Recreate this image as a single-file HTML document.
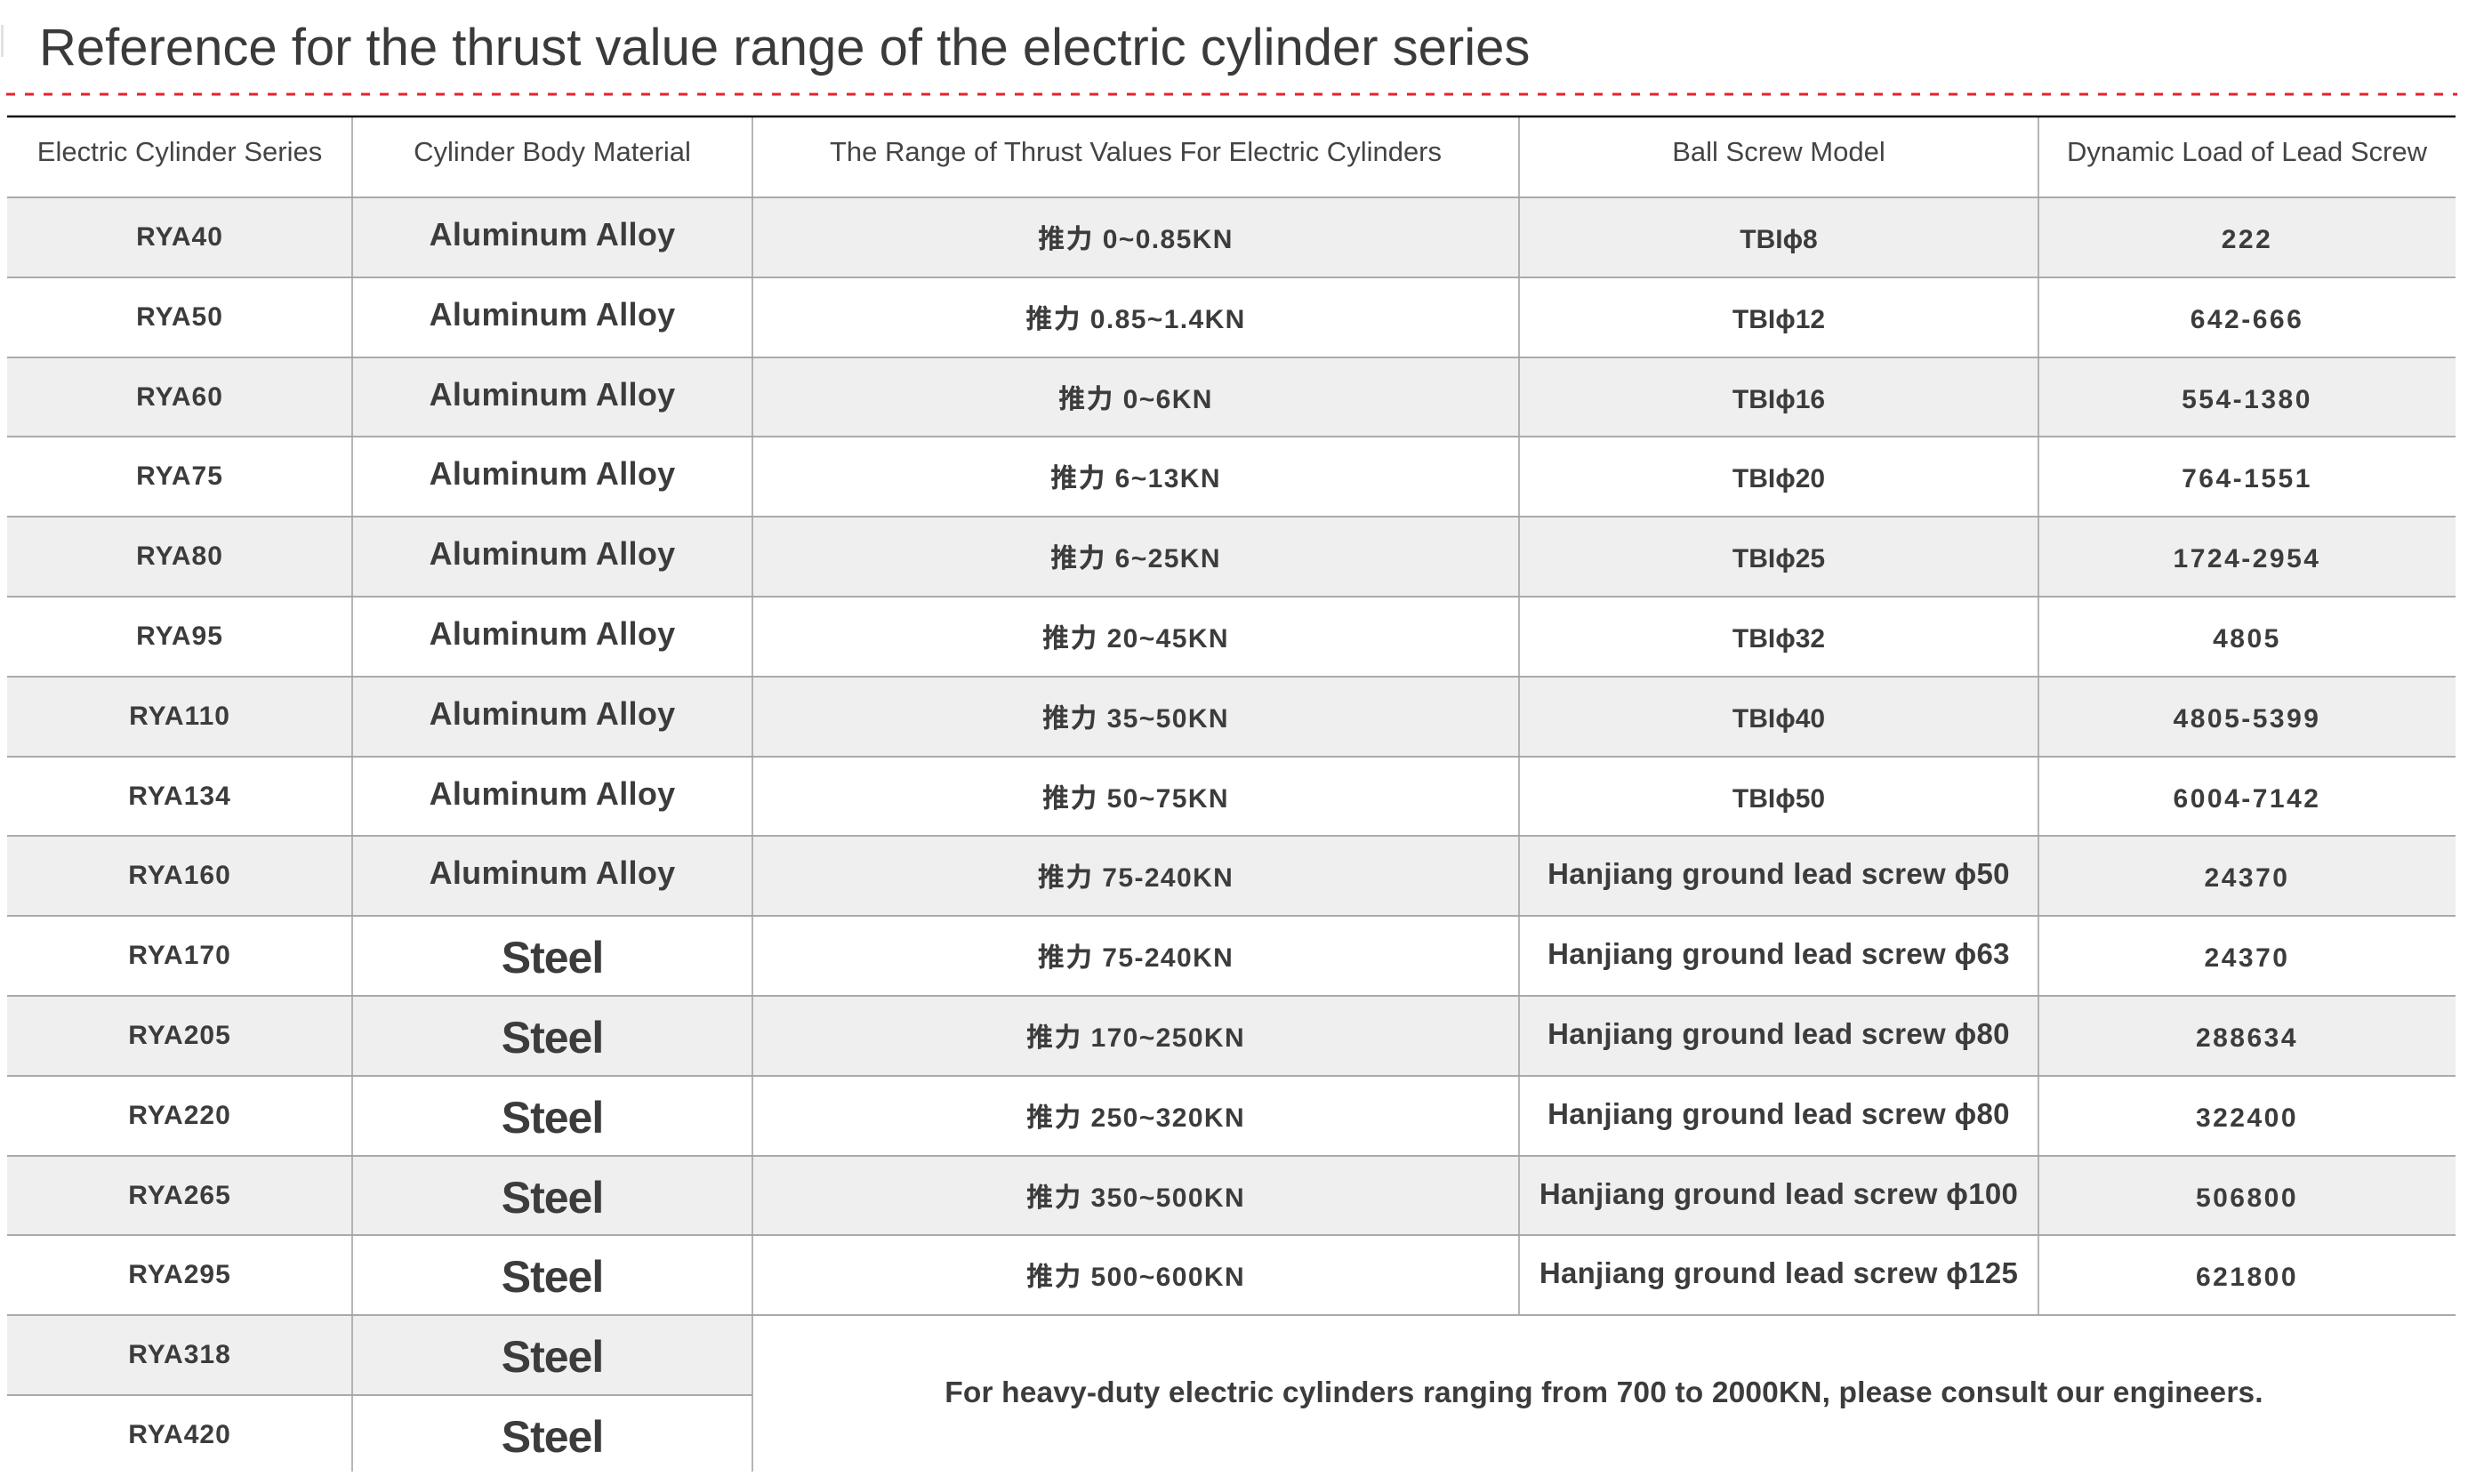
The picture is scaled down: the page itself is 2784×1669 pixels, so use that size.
<!DOCTYPE html>
<html>
<head>
<meta charset="utf-8">
<style>
html,body{margin:0;padding:0;background:#fff;}
#pg{position:relative;width:2784px;height:1669px;overflow:hidden;background:#fff;}
.t{position:absolute;left:44px;top:25px;font-family:"Liberation Sans",sans-serif;font-size:58px;line-height:58px;color:#3a3a3a;white-space:nowrap;}
.mark{position:absolute;left:1px;top:28px;width:3px;height:36px;background:#e2e2e2;}
.r{position:absolute;left:0;width:2784px;height:90px;}
.c{position:absolute;height:100px;line-height:100px;text-align:center;white-space:nowrap;font-family:"Liberation Sans","DejaVu Sans","Noto Sans CJK SC",sans-serif;color:#3c3c3c;font-weight:bold;}
.h{font-weight:normal;font-size:31px;color:#444;}
.c1{left:8px;width:388px;font-size:30px;top:-5px;letter-spacing:1px;}
.c2{left:396px;width:450px;font-size:36px;top:-8px;letter-spacing:0.3px;}
.c2.st{font-size:50px;letter-spacing:-1px;top:-3px;}
.c3{left:846px;width:862px;font-size:30px;letter-spacing:1.4px;top:-2px;}
.c4{left:1708px;width:584px;font-size:30px;top:-2px;}
.c4.hj{font-size:33px;letter-spacing:0.3px;top:-7px;}
.c5{left:2292px;width:469px;font-size:30px;letter-spacing:2.5px;top:-2px;}
.m{position:absolute;left:846px;width:1915px;top:1517px;height:100px;line-height:100px;text-align:center;white-space:nowrap;font-family:"Liberation Sans",sans-serif;font-weight:bold;font-size:33.5px;letter-spacing:0.15px;color:#3c3c3c;}
</style>
</head>
<body>
<div id="pg">
<svg width="2784" height="1669" style="position:absolute;left:0;top:0">
  <g fill="#efefef">
    <rect x="8" y="222" width="2753" height="90"/>
    <rect x="8" y="402" width="2753" height="89"/>
    <rect x="8" y="581" width="2753" height="90"/>
    <rect x="8" y="761" width="2753" height="90"/>
    <rect x="8" y="940" width="2753" height="90"/>
    <rect x="8" y="1120" width="2753" height="90"/>
    <rect x="8" y="1300" width="2753" height="89"/>
    <rect x="8" y="1479" width="838" height="90"/>
  </g>
  <g stroke="#aaaaaa" stroke-width="2">
    <line x1="8" y1="222" x2="2761" y2="222"/>
    <line x1="8" y1="312" x2="2761" y2="312"/>
    <line x1="8" y1="402" x2="2761" y2="402"/>
    <line x1="8" y1="491" x2="2761" y2="491"/>
    <line x1="8" y1="581" x2="2761" y2="581"/>
    <line x1="8" y1="671" x2="2761" y2="671"/>
    <line x1="8" y1="761" x2="2761" y2="761"/>
    <line x1="8" y1="851" x2="2761" y2="851"/>
    <line x1="8" y1="940" x2="2761" y2="940"/>
    <line x1="8" y1="1030" x2="2761" y2="1030"/>
    <line x1="8" y1="1120" x2="2761" y2="1120"/>
    <line x1="8" y1="1210" x2="2761" y2="1210"/>
    <line x1="8" y1="1300" x2="2761" y2="1300"/>
    <line x1="8" y1="1389" x2="2761" y2="1389"/>
    <line x1="8" y1="1479" x2="2761" y2="1479"/>
    <line x1="8" y1="1569" x2="846" y2="1569"/>
  </g>
  <g stroke="#a3a3a3" stroke-width="1.6">
    <line x1="396" y1="132" x2="396" y2="1655"/>
    <line x1="846" y1="132" x2="846" y2="1655"/>
    <line x1="1708" y1="132" x2="1708" y2="1479"/>
    <line x1="2292" y1="132" x2="2292" y2="1479"/>
  </g>
  <line x1="8" y1="131" x2="2761" y2="131" stroke="#111" stroke-width="2.5"/>
  <line x1="7" y1="106" x2="2763" y2="106" stroke="#e3232f" stroke-width="3" stroke-dasharray="10 11"/>
</svg>

<div class="mark"></div>
<div class="t">Reference for the thrust value range of the electric cylinder series</div>

<!-- header -->
<div class="r" style="top:132px;height:90px;">
  <div class="c h" style="left:8px;width:388px;top:-11px;">Electric Cylinder Series</div>
  <div class="c h" style="left:396px;width:450px;top:-11px;">Cylinder Body Material</div>
  <div class="c h" style="left:846px;width:862px;top:-11px;">The Range of Thrust Values For Electric Cylinders</div>
  <div class="c h" style="left:1708px;width:584px;top:-11px;">Ball Screw Model</div>
  <div class="c h" style="left:2292px;width:469px;top:-11px;">Dynamic Load of Lead Screw</div>
</div>

<div class="r" style="top:222px;">
  <div class="c c1">RYA40</div>
  <div class="c c2">Aluminum Alloy</div>
  <div class="c c3">推力 0~0.85KN</div>
  <div class="c c4">TBIϕ8</div>
  <div class="c c5">222</div>
</div>
<div class="r" style="top:311.8px;">
  <div class="c c1">RYA50</div>
  <div class="c c2">Aluminum Alloy</div>
  <div class="c c3">推力 0.85~1.4KN</div>
  <div class="c c4">TBIϕ12</div>
  <div class="c c5">642-666</div>
</div>
<div class="r" style="top:401.6px;">
  <div class="c c1">RYA60</div>
  <div class="c c2">Aluminum Alloy</div>
  <div class="c c3">推力 0~6KN</div>
  <div class="c c4">TBIϕ16</div>
  <div class="c c5">554-1380</div>
</div>
<div class="r" style="top:491.4px;">
  <div class="c c1">RYA75</div>
  <div class="c c2">Aluminum Alloy</div>
  <div class="c c3">推力 6~13KN</div>
  <div class="c c4">TBIϕ20</div>
  <div class="c c5">764-1551</div>
</div>
<div class="r" style="top:581.2px;">
  <div class="c c1">RYA80</div>
  <div class="c c2">Aluminum Alloy</div>
  <div class="c c3">推力 6~25KN</div>
  <div class="c c4">TBIϕ25</div>
  <div class="c c5">1724-2954</div>
</div>
<div class="r" style="top:671px;">
  <div class="c c1">RYA95</div>
  <div class="c c2">Aluminum Alloy</div>
  <div class="c c3">推力 20~45KN</div>
  <div class="c c4">TBIϕ32</div>
  <div class="c c5">4805</div>
</div>
<div class="r" style="top:760.8px;">
  <div class="c c1">RYA110</div>
  <div class="c c2">Aluminum Alloy</div>
  <div class="c c3">推力 35~50KN</div>
  <div class="c c4">TBIϕ40</div>
  <div class="c c5">4805-5399</div>
</div>
<div class="r" style="top:850.6px;">
  <div class="c c1">RYA134</div>
  <div class="c c2">Aluminum Alloy</div>
  <div class="c c3">推力 50~75KN</div>
  <div class="c c4">TBIϕ50</div>
  <div class="c c5">6004-7142</div>
</div>
<div class="r" style="top:940.4px;">
  <div class="c c1">RYA160</div>
  <div class="c c2">Aluminum Alloy</div>
  <div class="c c3">推力 75-240KN</div>
  <div class="c c4 hj">Hanjiang ground lead screw ϕ50</div>
  <div class="c c5">24370</div>
</div>
<div class="r" style="top:1030.2px;">
  <div class="c c1">RYA170</div>
  <div class="c c2 st">Steel</div>
  <div class="c c3">推力 75-240KN</div>
  <div class="c c4 hj">Hanjiang ground lead screw ϕ63</div>
  <div class="c c5">24370</div>
</div>
<div class="r" style="top:1120px;">
  <div class="c c1">RYA205</div>
  <div class="c c2 st">Steel</div>
  <div class="c c3">推力 170~250KN</div>
  <div class="c c4 hj">Hanjiang ground lead screw ϕ80</div>
  <div class="c c5">288634</div>
</div>
<div class="r" style="top:1209.8px;">
  <div class="c c1">RYA220</div>
  <div class="c c2 st">Steel</div>
  <div class="c c3">推力 250~320KN</div>
  <div class="c c4 hj">Hanjiang ground lead screw ϕ80</div>
  <div class="c c5">322400</div>
</div>
<div class="r" style="top:1299.6px;">
  <div class="c c1">RYA265</div>
  <div class="c c2 st">Steel</div>
  <div class="c c3">推力 350~500KN</div>
  <div class="c c4 hj">Hanjiang ground lead screw ϕ100</div>
  <div class="c c5">506800</div>
</div>
<div class="r" style="top:1389.4px;">
  <div class="c c1">RYA295</div>
  <div class="c c2 st">Steel</div>
  <div class="c c3">推力 500~600KN</div>
  <div class="c c4 hj">Hanjiang ground lead screw ϕ125</div>
  <div class="c c5">621800</div>
</div>
<div class="r" style="top:1479.2px;">
  <div class="c c1">RYA318</div>
  <div class="c c2 st">Steel</div>
</div>
<div class="r" style="top:1569px;">
  <div class="c c1">RYA420</div>
  <div class="c c2 st">Steel</div>
</div>

<div class="m">For heavy-duty electric cylinders ranging from 700 to 2000KN, please consult our engineers.</div>
</div>
</body>
</html>
